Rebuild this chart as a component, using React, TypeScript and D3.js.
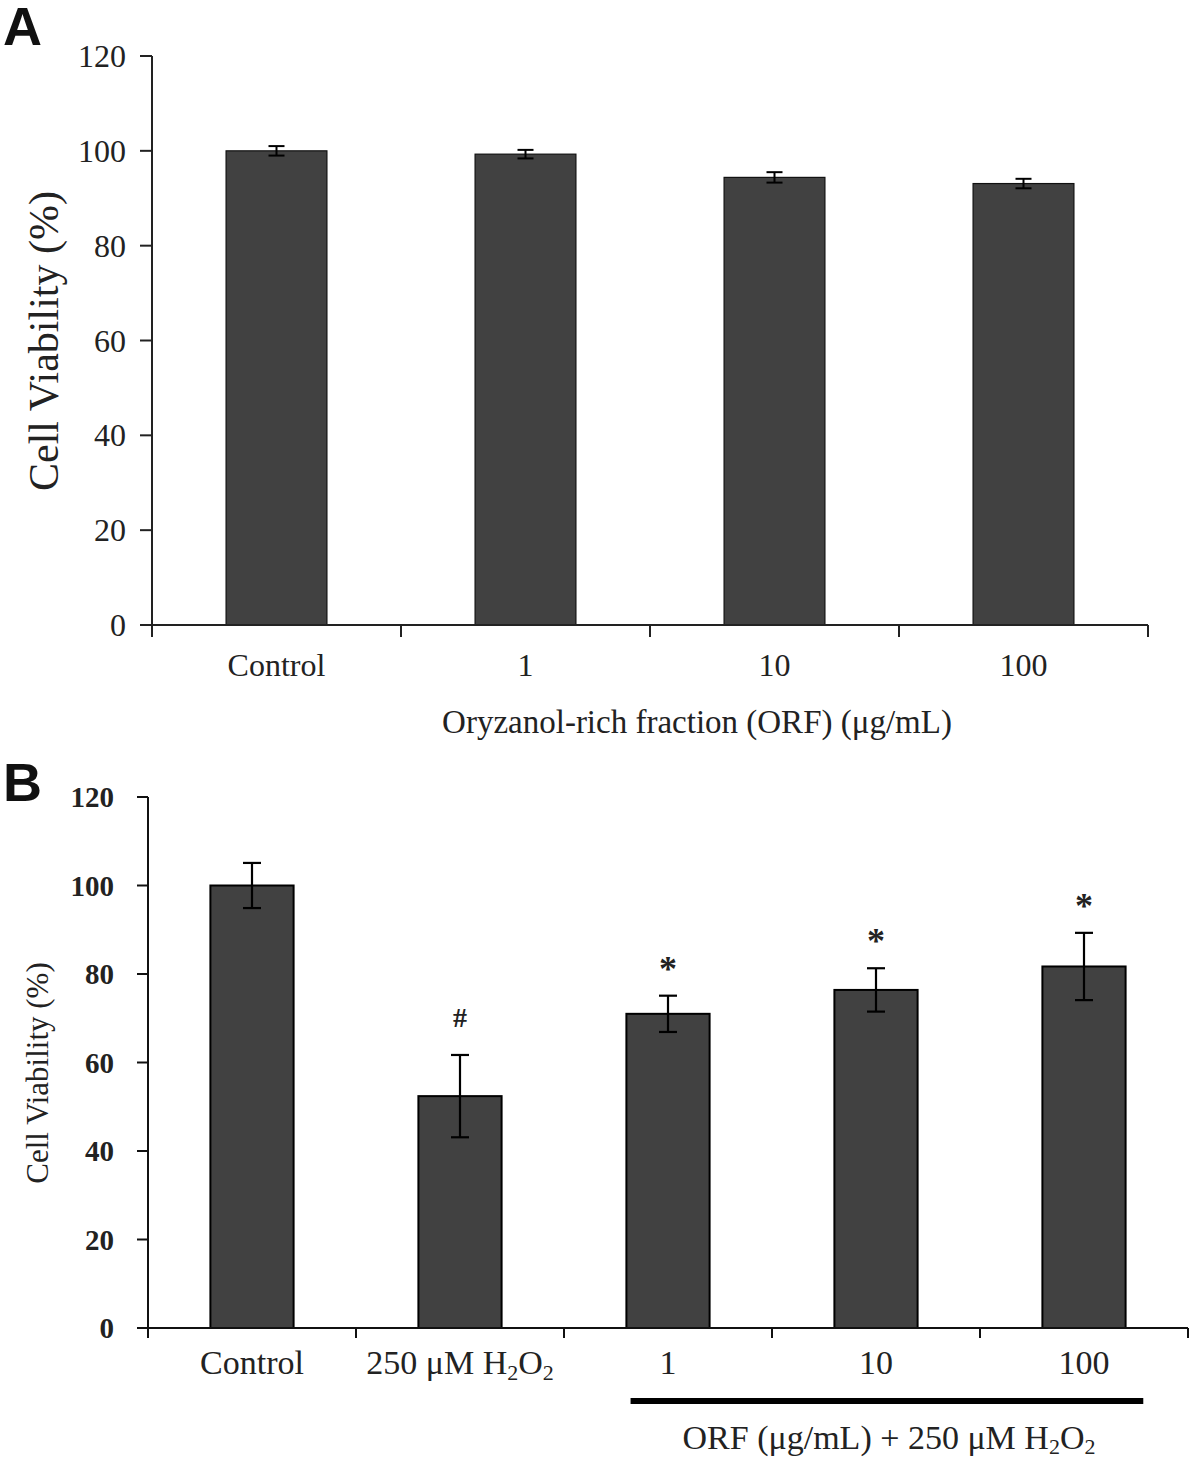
import React from "react";
import * as d3 from "d3";

const catsA = ["Control", "1", "10", "100"];
const meanA = [100, 99.3, 94.4, 93.1];
const errA = [1.0, 0.9, 1.1, 1.0];

const catsB = ["Control", "250 μM H₂O₂", "1", "10", "100"];
const meanB = [100, 52.4, 71.0, 76.4, 81.7];
const errB = [5.1, 9.3, 4.1, 4.9, 7.6];
const markB = ["", "#", "*", "*", "*"];

const yTicks = [0, 20, 40, 60, 80, 100, 120];

const SERIF = "'Liberation Serif', 'Times New Roman', serif";
const SANS = "'Liberation Sans', Arial, sans-serif";
const BAR_FILL = "#414141";

function SubText({ text, subSize, drop }: { text: string; subSize: number; drop: number }) {
  const parts: React.ReactNode[] = [];
  let buf = "";
  let lowered = false;
  let k = 0;
  for (const ch of text) {
    if (ch === "₂") {
      if (buf) {
        parts.push(<tspan key={k++} dy={lowered ? -drop : 0}>{buf}</tspan>);
        lowered = false;
      }
      parts.push(
        <tspan key={k++} dy={lowered ? 0 : drop} fontSize={subSize}>
          2
        </tspan>
      );
      lowered = true;
      buf = "";
    } else {
      buf += ch;
    }
  }
  if (buf) parts.push(<tspan key={k++} dy={lowered ? -drop : 0}>{buf}</tspan>);
  return <>{parts}</>;
}

export default function App() {
  // ---------- Panel A ----------
  const xA = d3.scaleBand<string>().domain(catsA).range([152, 1148]).padding(0);
  const yA = d3.scaleLinear().domain([0, 120]).range([625, 56]);
  const bwA = xA.bandwidth() * 0.405;
  const stepA = xA.step();

  // ---------- Panel B ----------
  const xB = d3.scaleBand<string>().domain(catsB).range([148, 1188]).padding(0);
  const yB = d3.scaleLinear().domain([0, 120]).range([1328, 797]);
  const bwB = xB.bandwidth() * 0.4;
  const stepB = xB.step();

  const lineStart = (xB("1") as number) + stepB * 0.32;
  const lineEnd = (xB("100") as number) + stepB * 0.785;

  return (
    <svg
      width={1200}
      height={1460}
      style={{ display: "block", position: "absolute", left: 0, top: 0, background: "#fff" }}
    >
      <rect x={0} y={0} width={1200} height={1460} fill="#fff" />

      {/* Panel label A */}
      <text x={3} y={45} fontFamily={SANS} fontWeight="bold" fontSize={54} fill="#111">
        A
      </text>

      {/* Bars A */}
      {catsA.map((c, i) => {
        const cx = (xA(c) as number) + xA.bandwidth() / 2;
        return (
          <g key={c}>
            <rect
              x={cx - bwA / 2}
              y={yA(meanA[i])}
              width={bwA}
              height={yA(0) - yA(meanA[i])}
              fill={BAR_FILL}
              stroke="#111"
              strokeWidth={1.2}
            />
            <line x1={cx} x2={cx} y1={yA(meanA[i] + errA[i])} y2={yA(meanA[i] - errA[i])} stroke="#000" strokeWidth={2} />
            <line x1={cx - 8} x2={cx + 8} y1={yA(meanA[i] + errA[i])} y2={yA(meanA[i] + errA[i])} stroke="#000" strokeWidth={2} />
            <line x1={cx - 8} x2={cx + 8} y1={yA(meanA[i] - errA[i])} y2={yA(meanA[i] - errA[i])} stroke="#000" strokeWidth={2} />
          </g>
        );
      })}

      {/* Axes A */}
      <line x1={152} x2={152} y1={yA(120)} y2={yA(0)} stroke="#222" strokeWidth={2} />
      <line x1={152} x2={1148} y1={yA(0)} y2={yA(0)} stroke="#222" strokeWidth={2} />
      {yTicks.map((t) => (
        <g key={"ya" + t}>
          <line x1={140} x2={152} y1={yA(t)} y2={yA(t)} stroke="#222" strokeWidth={2} />
          <text x={126} y={yA(t) + 11} textAnchor="end" fontFamily={SERIF} fontSize={32} fill="#222">
            {t}
          </text>
        </g>
      ))}
      {d3.range(catsA.length + 1).map((i) => {
        const x = 152 + i * stepA;
        return <line key={"xta" + i} x1={x} x2={x} y1={yA(0)} y2={yA(0) + 12} stroke="#222" strokeWidth={2} />;
      })}
      {catsA.map((c) => (
        <text
          key={"xla" + c}
          x={(xA(c) as number) + xA.bandwidth() / 2}
          y={676}
          textAnchor="middle"
          fontFamily={SERIF}
          fontSize={32}
          fill="#222"
        >
          {c}
        </text>
      ))}
      <text x={697} y={733} textAnchor="middle" fontFamily={SERIF} fontSize={33} fill="#222">
        Oryzanol-rich fraction (ORF) (μg/mL)
      </text>
      <text
        transform="translate(58,341) rotate(-90)"
        textAnchor="middle"
        fontFamily={SERIF}
        fontSize={42}
        fill="#222"
      >
        Cell Viability (%)
      </text>

      {/* Panel label B */}
      <text x={3} y={801} fontFamily={SANS} fontWeight="bold" fontSize={54} fill="#111">
        B
      </text>

      {/* Bars B */}
      {catsB.map((c, i) => {
        const cx = (xB(c) as number) + xB.bandwidth() / 2;
        const top = yB(meanB[i] + errB[i]);
        return (
          <g key={c}>
            <rect
              x={cx - bwB / 2}
              y={yB(meanB[i])}
              width={bwB}
              height={yB(0) - yB(meanB[i])}
              fill={BAR_FILL}
              stroke="#000"
              strokeWidth={2}
            />
            <line x1={cx} x2={cx} y1={top} y2={yB(meanB[i] - errB[i])} stroke="#000" strokeWidth={2.2} />
            <line x1={cx - 9} x2={cx + 9} y1={top} y2={top} stroke="#000" strokeWidth={2.2} />
            <line x1={cx - 9} x2={cx + 9} y1={yB(meanB[i] - errB[i])} y2={yB(meanB[i] - errB[i])} stroke="#000" strokeWidth={2.2} />
            {markB[i] === "*" && (
              <text x={cx} y={top - 15} textAnchor="middle" fontFamily={SERIF} fontWeight="bold" fontSize={36} fill="#222">
                *
              </text>
            )}
            {markB[i] === "#" && (
              <text x={cx} y={top - 28} textAnchor="middle" fontFamily={SERIF} fontWeight="bold" fontSize={28} fill="#222">
                #
              </text>
            )}
          </g>
        );
      })}

      {/* Axes B */}
      <line x1={148} x2={148} y1={yB(120)} y2={yB(0)} stroke="#111" strokeWidth={2} />
      <line x1={148} x2={1188} y1={yB(0)} y2={yB(0)} stroke="#111" strokeWidth={2} />
      {yTicks.map((t) => (
        <g key={"yb" + t}>
          <line x1={137} x2={148} y1={yB(t)} y2={yB(t)} stroke="#111" strokeWidth={2} />
          <text x={114} y={yB(t) + 10} textAnchor="end" fontFamily={SERIF} fontWeight="bold" fontSize={29} fill="#222">
            {t}
          </text>
        </g>
      ))}
      {d3.range(catsB.length + 1).map((i) => {
        const x = 148 + i * stepB;
        return <line key={"xtb" + i} x1={x} x2={x} y1={yB(0)} y2={yB(0) + 10} stroke="#111" strokeWidth={2} />;
      })}
      {catsB.map((c) => (
        <text
          key={"xlb" + c}
          x={(xB(c) as number) + xB.bandwidth() / 2}
          y={1374}
          textAnchor="middle"
          fontFamily={SERIF}
          fontSize={34}
          fill="#222"
        >
          <SubText text={c} subSize={22} drop={6} />
        </text>
      ))}
      <rect x={lineStart} y={1398} width={lineEnd - lineStart} height={6} fill="#000" />
      <text x={889} y={1449} textAnchor="middle" fontFamily={SERIF} fontSize={34} fill="#222">
        <SubText text="ORF (μg/mL) + 250 μM H₂O₂" subSize={22} drop={5} />
      </text>
      <text
        transform="translate(48,1073) rotate(-90)"
        textAnchor="middle"
        fontFamily={SERIF}
        fontSize={31}
        fill="#222"
      >
        Cell Viability  (%)
      </text>
    </svg>
  );
}
